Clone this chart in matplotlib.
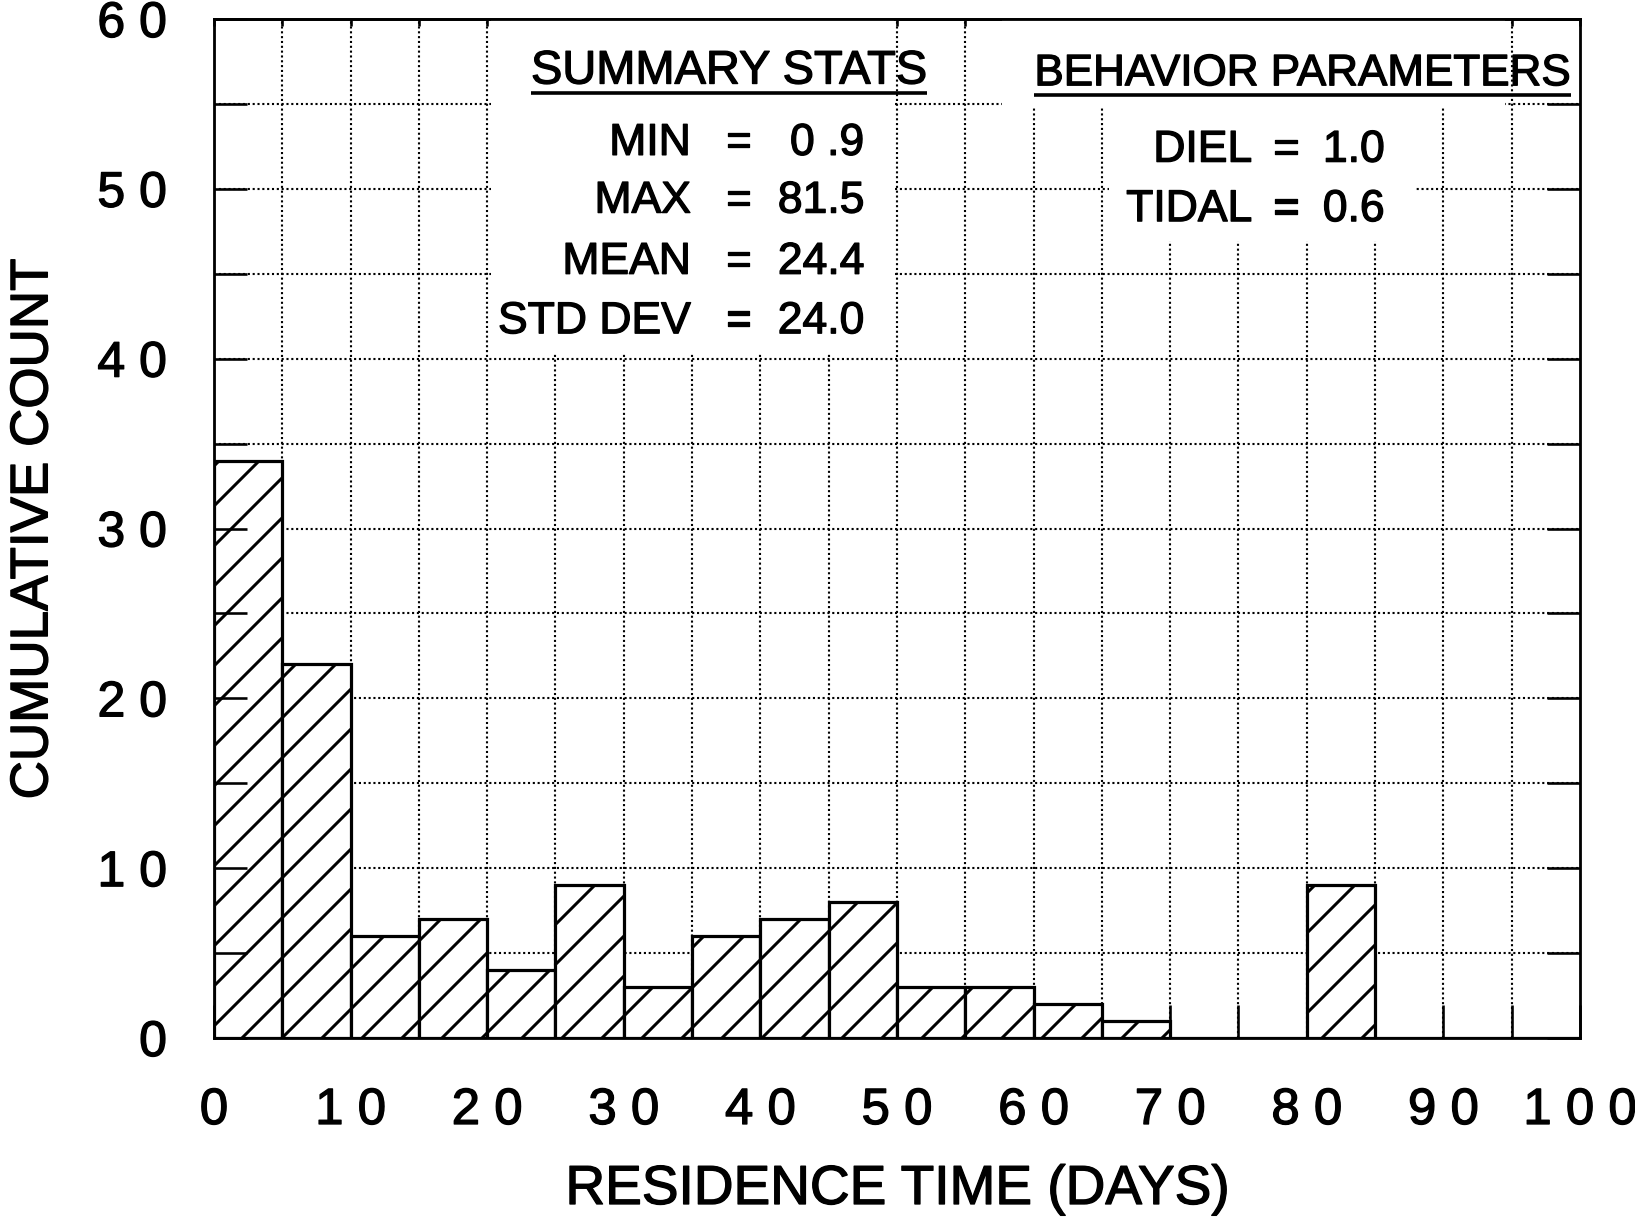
import numpy as np
import matplotlib
matplotlib.use("Agg")
import matplotlib.pyplot as plt
import matplotlib.patheffects as pe
from matplotlib.ticker import MultipleLocator, FuncFormatter
from matplotlib.patches import Rectangle

DPI = 120
PX = 72 / DPI          # points per output pixel; sizes below are given in pixels

plt.rcParams['font.family'] = ['Liberation Sans', 'DejaVu Sans']
plt.rcParams['hatch.linewidth'] = 3.0 * PX

# residence-time histogram, 5-day bins
bin_left = [0, 5, 10, 15, 20, 25, 30, 35, 40, 45, 50, 55, 60, 65, 70, 75, 80, 85, 90, 95]
counts = [34, 22, 6, 7, 4, 9, 3, 6, 7, 8, 3, 3, 2, 1, 0, 0, 9, 0, 0, 0]
bin_width = 5

stat_names = ["MIN", "MAX", "MEAN", "STD DEV"]
stat_values = ["0 .9", "81.5", "24.4", "24.0"]
param_names = ["DIEL", "TIDAL"]
param_values = ["1.0", "0.6"]

ink = [pe.withStroke(linewidth=1.3 * PX, foreground="black")]

fig = plt.figure(figsize=(1635 / DPI, 1220 / DPI), dpi=DPI)
ax = fig.add_axes([214 / 1635, 1 - 1038 / 1220, 1366 / 1635, 1019 / 1220])
ax.set_xlim(0, 100)
ax.set_ylim(0, 60)

# dotted grid every 5 units, kept under everything else
grid_kw = dict(colors="black", linestyles=(0, (1, 1.3)), linewidth=2.1 * PX, zorder=0.5)
ax.vlines(np.arange(5, 100, 5), 0, 60, **grid_kw)
ax.hlines(np.arange(5, 60, 5), 0, 100, **grid_kw)

# white panels behind the two text blocks
for (x0, y0, w, h) in [(20.3, 40.25, 29.5, 19.75), (57.7, 54.8, 36.8, 5.2), (65.5, 46.9, 22.5, 8.2)]:
    ax.add_patch(Rectangle((x0, y0), w, h, facecolor="white", edgecolor="none", zorder=0.8))

ax.bar(bin_left, counts, width=bin_width, align="edge", color="white",
       edgecolor="black", hatch="/", linewidth=3.2 * PX, zorder=1)

# axes, ticks
ax.set_axisbelow(False)
for sp in ax.spines.values():
    sp.set_linewidth(2.8 * PX)
    sp.set_zorder(3)
ax.xaxis.set_major_locator(MultipleLocator(10))
ax.xaxis.set_minor_locator(MultipleLocator(5))
ax.yaxis.set_major_locator(MultipleLocator(10))
ax.yaxis.set_minor_locator(MultipleLocator(5))
spaced = FuncFormatter(lambda v, p: " ".join(str(int(round(v)))))
ax.xaxis.set_major_formatter(spaced)
ax.yaxis.set_major_formatter(spaced)
ax.tick_params(which="both", direction="in", length=33 * PX, width=2.6 * PX,
               left=True, right=True, bottom=True, top=False)
ax.tick_params(axis="x", which="major", pad=48 * PX, labelsize=51 * PX)
ax.tick_params(axis="y", which="major", pad=47 * PX, labelsize=50 * PX)
top = ax.secondary_xaxis("top")
top.set_xticks(np.arange(0, 101, 5))
top.tick_params(direction="in", length=7 * PX, width=2.6 * PX, labeltop=False)
top.spines["top"].set_linewidth(2.8 * PX)

ax.set_xlabel("RESIDENCE TIME (DAYS)", fontsize=55 * PX, labelpad=29 * PX)
ax.set_ylabel("CUMULATIVE COUNT", fontsize=53 * PX, labelpad=39 * PX)

# summary statistics block
h1 = ax.text(37.7, 56.2, "SUMMARY STATS", fontsize=47 * PX,
             ha="center", va="baseline", zorder=4)
stat_y = [52.0, 48.6, 45.0, 41.5]
for name, val, y in zip(stat_names, stat_values, stat_y):
    ax.text(34.9, y, name, fontsize=44.5 * PX, ha="right", va="baseline", zorder=4)
    ax.text(38.4, y, "=", fontsize=44.5 * PX, ha="center", va="baseline", zorder=4)
    ax.text(47.6, y, val, fontsize=44.5 * PX, ha="right", va="baseline", zorder=4)

# behaviour parameters block
h2 = ax.text(79.7, 56.1, "BEHAVIOR PARAMETERS", fontsize=44 * PX,
             ha="center", va="baseline", zorder=4)
param_y = [51.6, 48.1]
for name, val, y in zip(param_names, param_values, param_y):
    ax.text(76.0, y, name, fontsize=44.5 * PX, ha="right", va="baseline", zorder=4)
    ax.text(78.5, y, "=", fontsize=44.5 * PX, ha="center", va="baseline", zorder=4)
    ax.text(85.7, y, val, fontsize=44.5 * PX, ha="right", va="baseline", zorder=4)

# heavier strokes on every label, like the printed original
fig.canvas.draw()
for t in ax.texts + ax.get_xticklabels() + ax.get_yticklabels() + [ax.xaxis.label, ax.yaxis.label]:
    t.set_path_effects(ink)

# underline the two headings
inv = ax.transData.inverted()
for t, yu in [(h1, 55.65), (h2, 55.55)]:
    bb = t.get_window_extent()
    xa = inv.transform((bb.x0, 0))[0]
    xb = inv.transform((bb.x1, 0))[0]
    ax.plot([xa, xb], [yu, yu], color="black", lw=3.6 * PX, solid_capstyle="butt", zorder=4)

fig.savefig("out.png", dpi=DPI, facecolor="white")
